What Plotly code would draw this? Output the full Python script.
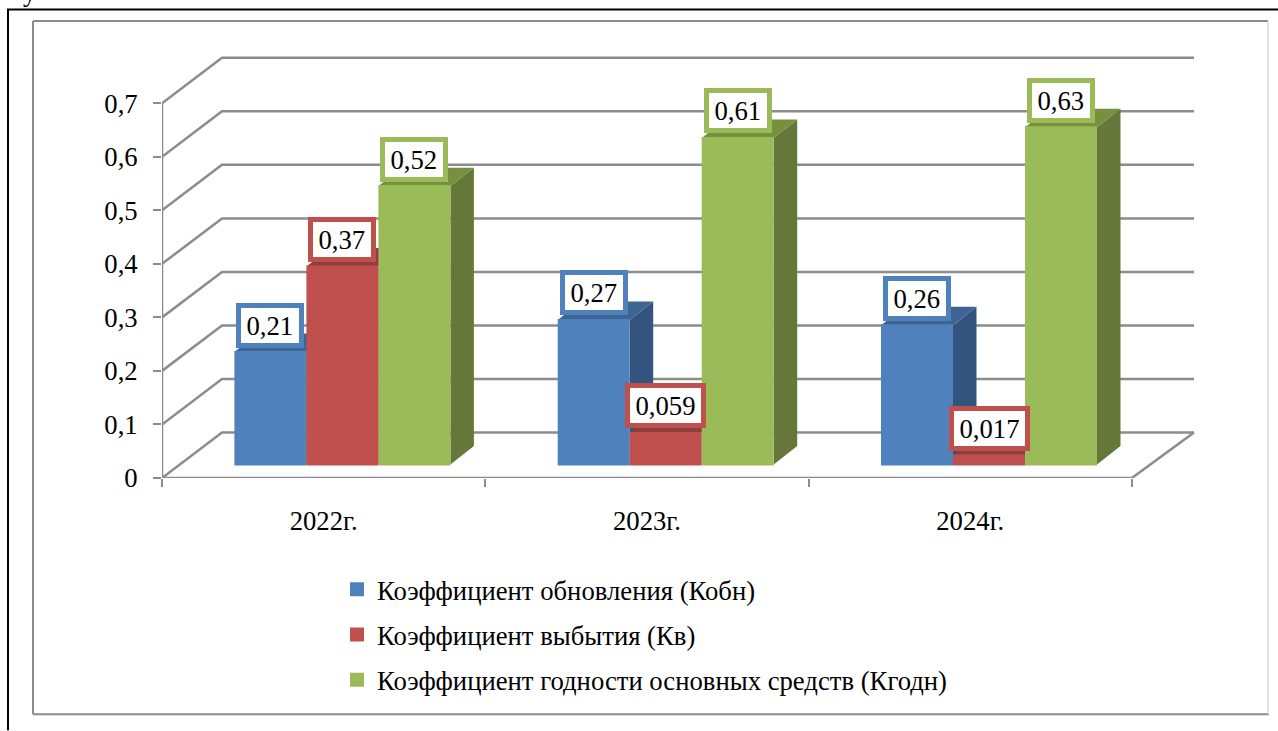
import plotly.graph_objects as go

categories = ["2022г.", "2023г.", "2024г."]
series_names = ["Коэффициент обновления (Кобн)", "Коэффициент выбытия (Кв)",
                "Коэффициент годности основных средств (Кгодн)"]
kobn = [0.21, 0.27, 0.26]
kv = [0.37, 0.059, 0.017]
kgodn = [0.52, 0.61, 0.63]
y_ticks = [0, 0.1, 0.2, 0.3, 0.4, 0.5, 0.6, 0.7]

all_values = [kobn, kv, kgodn]
front_colors = ["#4F81BD", "#C0504D", "#9BBB59"]
side_colors = ["#33547F", "#8A3A37", "#65783A"]
top_colors = ["#3E6492", "#8F3E3B", "#76903F"]

W, H = 1278, 731
PX0, PX1, PY0, PY1 = 162, 1200, 478.5, 50
XU = 323.3
YU = 536.0
x_max = (PX1 - PX0) / XU
y_max = (PY0 - PY1) / YU
WALL_DX, WALL_DY = 60 / XU, 45.5 / YU
BACK_X = (1194 - PX0) / XU
FLOOR = 13.5 / YU
BAR_W = 72 / XU
SIDE_DX, SIDE_DY = 23.5 / XU, 18.5 / YU
GROUP_C = 0.558
LINE = "#8C8C8C"
FONT = "Liberation Serif"
FS = 26.7


def px(x):
    return (x - PX0) / (PX1 - PX0)


def py(y):
    return (PY0 - y) / (PY0 - PY1)


fig = go.Figure()

# walls and floor
gx, gy = [], []
for v in y_ticks:
    gx += [0, WALL_DX, BACK_X, None]
    gy += [v, v + WALL_DY, v + WALL_DY, None]
gx += [3, BACK_X, None, 0, 3, None, 0, 0]
gy += [0, WALL_DY, None, 0, 0, None, 0, y_ticks[-1]]
fig.add_trace(go.Scatter(x=gx, y=gy, mode="lines", line=dict(color=LINE, width=2.5),
                         cliponaxis=False, showlegend=False, hoverinfo="skip"))

# depth faces
for s, vals in enumerate(all_values):
    sx, sy, tx, ty = [], [], [], []
    for g, v in enumerate(vals):
        xl = g + GROUP_C + (s - 1.5) * BAR_W
        xr = xl + BAR_W
        top = FLOOR + v
        sx += [xr, xr + SIDE_DX, xr + SIDE_DX, xr, xr, None]
        sy += [FLOOR, FLOOR + SIDE_DY, top + SIDE_DY, top, FLOOR, None]
        tx += [xl, xl + SIDE_DX, xr + SIDE_DX, xr, xl, None]
        ty += [top, top + SIDE_DY, top + SIDE_DY, top, top, None]
    fig.add_trace(go.Scatter(x=sx, y=sy, mode="none", fill="toself", fillcolor=side_colors[s],
                             showlegend=False, hoverinfo="skip"))
    fig.add_trace(go.Scatter(x=tx, y=ty, mode="none", fill="toself", fillcolor=top_colors[s],
                             showlegend=False, hoverinfo="skip"))

# front faces on an overlaying axis pair so they sit above the depth faces
annotations = []
for s, vals in enumerate(all_values):
    xs = [g + GROUP_C + (s - 1) * BAR_W for g in range(len(categories))]
    fig.add_trace(go.Bar(x=xs, y=vals, base=[FLOOR] * len(vals), width=(72 - 2) / XU,
                         name=series_names[s], xaxis="x2", yaxis="y2",
                         marker=dict(color=front_colors[s], line=dict(color=front_colors[s], width=2)),
                         legendgroup=series_names[s], hoverinfo="skip"))
    for xc, v in zip(xs, vals):
        label = str(v).replace(".", ",")
        annotations.append(dict(
            x=xc, y=FLOOR + v, xref="x", yref="y", yshift=27, text=label, showarrow=False,
            font=dict(family=FONT, size=FS, color="black"),
            bgcolor="white", bordercolor=front_colors[s], borderwidth=5, borderpad=0,
            width=13.3 * (len(label) - 1) + 6.7 + 11, height=35, xanchor="center", yanchor="middle",
        ))

annotations.append(dict(x=px(30), y=py(9), xref="paper", yref="paper", text="у", showarrow=False,
                        font=dict(family=FONT, size=FS, color="black"), xanchor="center", yanchor="bottom"))

shapes = [
    dict(type="line", xref="paper", yref="paper", x0=px(8), x1=px(8), y0=py(9), y1=py(731), line=dict(color="black", width=2), layer="below"),
    dict(type="line", xref="paper", yref="paper", x0=px(7), x1=px(1278), y0=py(9.5), y1=py(9.5), line=dict(color="black", width=2), layer="below"),
    dict(type="line", xref="paper", yref="paper", x0=px(33), x1=px(1268), y0=py(21), y1=py(21), line=dict(color="#8C8C8C", width=2), layer="below"),
    dict(type="line", xref="paper", yref="paper", x0=px(33), x1=px(33), y0=py(21), y1=py(715), line=dict(color="#8C8C8C", width=2), layer="below"),
    dict(type="line", xref="paper", yref="paper", x0=px(33), x1=px(1269), y0=py(715), y1=py(715), line=dict(color="#8C8C8C", width=2), layer="below"),
    dict(type="line", xref="paper", yref="paper", x0=px(1268), x1=px(1268), y0=py(21), y1=py(715), line=dict(color="#D9D9D9", width=1.5), layer="below"),
]

fig.update_layout(
    width=W, height=H, autosize=False,
    margin=dict(l=PX0, r=W - PX1, t=PY1, b=H - PY0, pad=0),
    paper_bgcolor="white", plot_bgcolor="white",
    separators=", ", barmode="overlay",
    font=dict(family=FONT, size=FS, color="black"),
    xaxis=dict(range=[0, x_max], tickmode="array", tickvals=[0.5, 1.5, 2.5], ticktext=categories,
               ticks="", showgrid=False, zeroline=False, showline=False,
               ticklabelstandoff=24, tickfont=dict(family=FONT, size=FS),
               minor=dict(tickmode="array", tickvals=[0, 1, 2, 3], ticks="outside", ticklen=8,
                          tickwidth=2, tickcolor=LINE, showgrid=False)),
    yaxis=dict(range=[0, y_max], tickmode="array", tickvals=y_ticks, ticks="outside", ticklen=8,
               tickwidth=2, tickcolor=LINE, showgrid=False, zeroline=False, showline=False,
               ticklabelstandoff=10, tickfont=dict(family=FONT, size=FS)),
    xaxis2=dict(range=[0, x_max], overlaying="x", visible=False),
    yaxis2=dict(range=[0, y_max], overlaying="y", visible=False),
    legend=dict(x=px(350), y=py(566), xanchor="left", yanchor="top", orientation="v",
                font=dict(family=FONT, size=FS, color="black"), traceorder="grouped",
                tracegroupgap=7.5, indentation=-13, bgcolor="rgba(0,0,0,0)", borderwidth=0),
    annotations=annotations, shapes=shapes,
)

fig.write_html("out.html", config=dict(displayModeBar=False),
               post_script="document.body.style.margin='0';document.body.style.overflow='hidden';")
